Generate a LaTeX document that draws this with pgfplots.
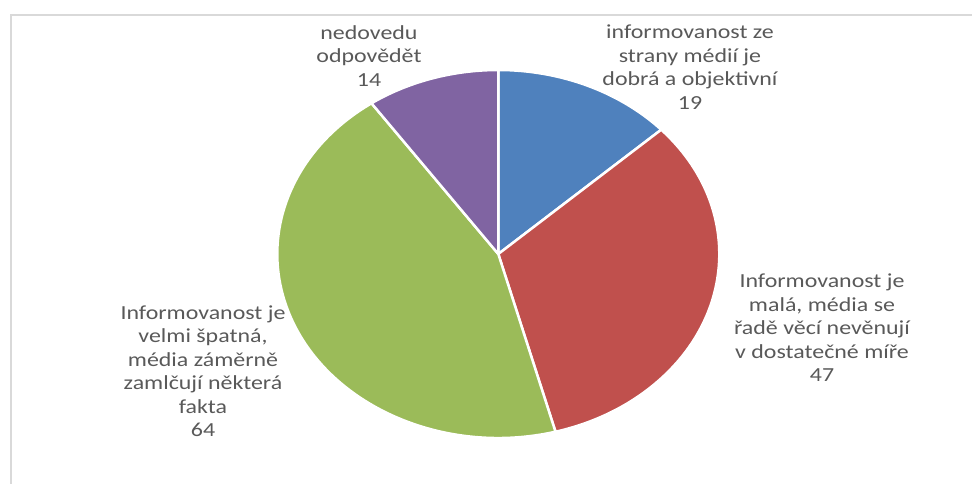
\documentclass[border=0pt]{standalone}
\usepackage{pgfplots}
\pgfplotsset{compat=1.18}
\usepackage{pgfplotstable}
\usepackage{fontspec}
\setmainfont{Carlito}

\definecolor{sliceblue}{HTML}{4F81BD}
\definecolor{slicered}{HTML}{C0504D}
\definecolor{slicegreen}{HTML}{9BBB59}
\definecolor{slicepurple}{HTML}{8064A2}
\definecolor{labelgray}{HTML}{595959}
\definecolor{framegray}{HTML}{D9D9D9}

% answers, clockwise from 12 o'clock
\pgfplotstableread{
share
19
47
64
14
}\piedata

\begin{document}
\begin{tikzpicture}
% slice angles from the table
\pgfplotstablegetelem{0}{share}\of\piedata \let\va\pgfplotsretval
\pgfplotstablegetelem{1}{share}\of\piedata \let\vb\pgfplotsretval
\pgfplotstablegetelem{2}{share}\of\piedata \let\vc\pgfplotsretval
\pgfplotstablegetelem{3}{share}\of\piedata \let\vd\pgfplotsretval
\pgfmathsetmacro{\total}{\va+\vb+\vc+\vd}
\pgfmathsetmacro{\aA}{90}
\pgfmathsetmacro{\aB}{\aA-\va/\total*360}
\pgfmathsetmacro{\aC}{\aB-\vb/\total*360}
\pgfmathsetmacro{\aD}{\aC-\vc/\total*360}
\pgfmathsetmacro{\aE}{\aD-\vd/\total*360}
\def\cx{498.3}\def\cy{230}\def\rx{221}\def\ry{184}

\path[use as bounding box] (0,0) rectangle (972bp,484bp);
\begin{axis}[
    x=1bp, y=1bp,
    xmin=0, xmax=972, ymin=0, ymax=484,
    hide axis,
    clip=false,
    anchor=origin, at={(0,0)},
]
% frame
\draw[framegray, line width=2bp] (axis cs:972,469) -- (axis cs:11,469) -- (axis cs:11,0);

% slices
\filldraw[fill=sliceblue, draw=white, line width=2.5bp, line join=round]
  (axis cs:\cx,\cy) -- (axis cs:{\cx+\rx*cos(\aA)},{\cy+\ry*sin(\aA)})
  arc[start angle=\aA, end angle=\aB, x radius=\rx bp, y radius=\ry bp] -- cycle;
\filldraw[fill=slicered, draw=white, line width=2.5bp, line join=round]
  (axis cs:\cx,\cy) -- (axis cs:{\cx+\rx*cos(\aB)},{\cy+\ry*sin(\aB)})
  arc[start angle=\aB, end angle=\aC, x radius=\rx bp, y radius=\ry bp] -- cycle;
\filldraw[fill=slicegreen, draw=white, line width=2.5bp, line join=round]
  (axis cs:\cx,\cy) -- (axis cs:{\cx+\rx*cos(\aC)},{\cy+\ry*sin(\aC)})
  arc[start angle=\aC, end angle=\aD, x radius=\rx bp, y radius=\ry bp] -- cycle;
\filldraw[fill=slicepurple, draw=white, line width=2.5bp, line join=round]
  (axis cs:\cx,\cy) -- (axis cs:{\cx+\rx*cos(\aD)},{\cy+\ry*sin(\aD)})
  arc[start angle=\aD, end angle=\aE, x radius=\rx bp, y radius=\ry bp] -- cycle;

% data labels
\tikzset{lbl/.style={align=center, xscale=1.2, text=labelgray, inner sep=0pt,
  font=\fontsize{20}{23.6}\selectfont}}
\node[lbl] at (axis cs:690,417) {informovanost ze\\strany médií je\\dobrá a objektivní\\19};
\node[lbl] at (axis cs:822,156) {Informovanost je\\malá, média se\\řadě věcí nevěnují\\v dostatečné míře\\47};
\node[lbl] at (axis cs:203,113) {Informovanost je\\velmi špatná,\\média záměrně\\zamlčují některá\\fakta\\64};
\node[lbl] at (axis cs:369,428) {nedovedu\\odpovědět\\14};
\end{axis}
\end{tikzpicture}
\end{document}
